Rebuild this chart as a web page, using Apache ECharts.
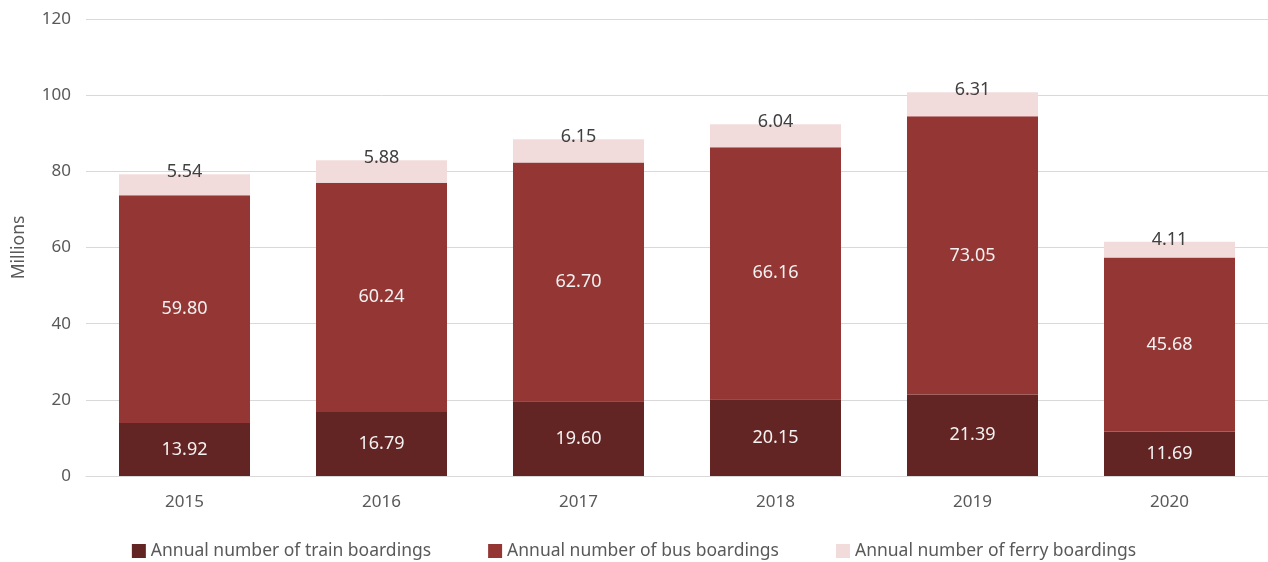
<!DOCTYPE html>
<html>
<head>
<meta charset="utf-8">
<script src="https://cdn.jsdelivr.net/npm/echarts@6/dist/echarts.min.js"></script>
<style>
  html, body { margin: 0; padding: 0; background: #fff; }
  #chart { width: 1268px; height: 562px; }
</style>
</head>
<body>
<div id="chart"></div>
<script>
var years = ['2015', '2016', '2017', '2018', '2019', '2020'];
var train = [13.92, 16.79, 19.60, 20.15, 21.39, 11.69];
var bus = [59.80, 60.24, 62.70, 66.16, 73.05, 45.68];
var ferry = [5.54, 5.88, 6.15, 6.04, 6.31, 4.11];
var yTicks = [0, 20, 40, 60, 80, 100, 120];

var font = 'Noto Sans';

// same label style for the three stacks, only colour / position differ
function barLabel(color) {
    return {
        show: true,
        position: 'inside',
        formatter: function (p) { return p.value.toFixed(2); },
        fontFamily: font,
        fontSize: 18,
        color: color
    };
}

var ferryLabel = barLabel('#404040');
ferryLabel.position = 'top';
ferryLabel.distance = -7;

var option = {
    animation: false,
    grid: {
        left: 86,
        right: 0,
        top: 19,
        bottom: 86
    },
    legend: {
        top: 537,
        left: 'center',
        itemWidth: 14,
        itemHeight: 14,
        itemGap: 57,
        icon: 'rect',
        textStyle: {
            fontFamily: font,
            fontSize: 17.5,
            color: '#595959'
        },
        data: ['Annual number of train boardings', 'Annual number of bus boardings', 'Annual number of ferry boardings']
    },
    xAxis: {
        type: 'category',
        data: years,
        axisTick: { show: false },
        axisLine: { lineStyle: { color: '#d9d9d9', width: 1 } },
        axisLabel: {
            margin: 18,
            fontFamily: font,
            fontSize: 17,
            color: '#595959'
        }
    },
    yAxis: {
        type: 'value',
        min: yTicks[0],
        max: yTicks[yTicks.length - 1],
        interval: 20,
        name: 'Millions',
        nameLocation: 'middle',
        nameGap: 58,
        nameTextStyle: {
            fontFamily: font,
            fontSize: 17.5,
            color: '#595959'
        },
        axisLine: { show: false },
        axisTick: { show: false },
        axisLabel: {
            margin: 15,
            fontFamily: font,
            fontSize: 17,
            color: '#595959'
        },
        splitLine: { lineStyle: { color: '#d9d9d9', width: 1 } }
    },
    series: [
        {
            name: 'Annual number of train boardings',
            type: 'bar',
            stack: 'total',
            barWidth: '66.5%',
            data: train,
            itemStyle: { color: '#632523' },
            label: barLabel('#f2f2f2')
        },
        {
            name: 'Annual number of bus boardings',
            type: 'bar',
            stack: 'total',
            data: bus,
            itemStyle: { color: '#943634' },
            label: barLabel('#f2f2f2')
        },
        {
            name: 'Annual number of ferry boardings',
            type: 'bar',
            stack: 'total',
            data: ferry,
            itemStyle: { color: '#f2dcdb' },
            label: ferryLabel
        }
    ]
};

var myChart = echarts.init(document.getElementById('chart'));
myChart.setOption(option);
</script>
</body>
</html>
